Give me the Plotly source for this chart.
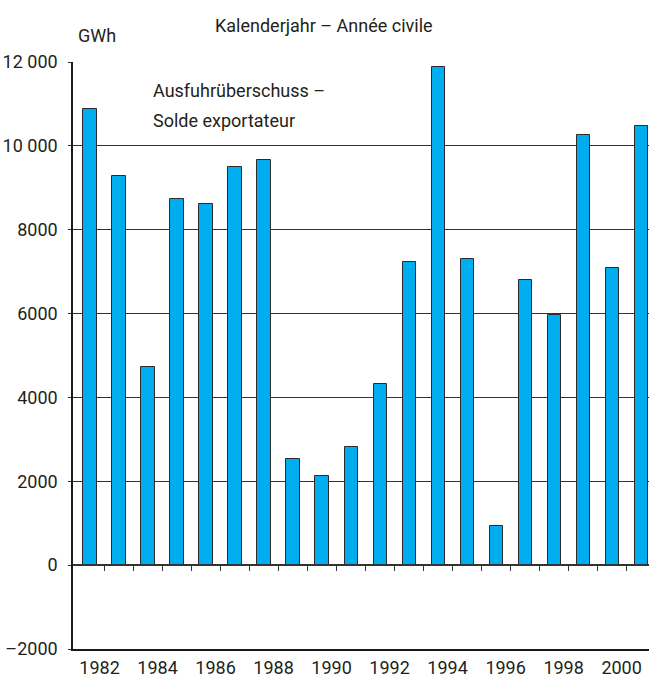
#!/usr/bin/env python3

import plotly.graph_objects as go

# Export surplus per calendar year (GWh)
years = list(range(1981, 2001))
surplus_gwh = [10870, 9290, 4720, 8740, 8620, 9500, 9670, 2530, 2120, 2820,
               4310, 7220, 11890, 7290, 940, 6790, 5970, 10260, 7090, 10470]

label_years = list(range(1982, 2001, 2))
y_ticks = [12000, 10000, 8000, 6000, 4000, 2000, 0, -2000]
y_ticktext = ["12 000", "10 000", "8000", "6000", "4000", "2000", "0", "\u20132000"]

FONT = "Roboto, Lato, sans-serif"
FS = 18
TEXT = "#231f20"
BAR = "#00aeef"
x_range = [years[0] - 0.586, years[0] - 0.586 + 19.86]
y_range = [-2000, 12000]

fig = go.Figure()

fig.add_trace(go.Bar(
    x=years,
    y=surplus_gwh,
    width=0.45,
    marker=dict(color=BAR, line=dict(color="#2b2b2b", width=1)),
    showlegend=False,
    hoverinfo="x+y",
))

# year labels sit just left of the boundary between two bars
label_pos = [y - 0.5 - 0.17 for y in label_years]
# tick marks hang from the zero line at every bar boundary
boundaries = [y + 0.5 for y in years[:-1]]

fig.update_layout(
    width=649,
    height=681,
    margin=dict(l=73, r=0, t=62, b=32, autoexpand=False),
    plot_bgcolor="white",
    paper_bgcolor="white",
    font=dict(family=FONT, size=FS, color=TEXT),
    bargap=0,
    xaxis=dict(
        range=x_range,
        automargin=False,
        tickmode="array",
        tickvals=label_pos,
        ticktext=[str(y) for y in label_years],
        ticks="",
        ticklabelstandoff=2,
        showgrid=False,
        zeroline=False,
        showline=True,
        linecolor="#1a1a1a",
        linewidth=1.5,
        tickfont=dict(size=FS, color=TEXT),
    ),
    xaxis2=dict(
        range=x_range,
        automargin=False,
        overlaying="x",
        anchor="free",
        position=(0 - y_range[0]) / (y_range[1] - y_range[0]),
        side="bottom",
        tickmode="array",
        tickvals=boundaries,
        ticks="outside",
        ticklen=5,
        tickwidth=1.2,
        tickcolor="#333333",
        showticklabels=False,
        showgrid=False,
        zeroline=False,
        showline=True,
        linecolor="#333333",
        linewidth=1.5,
    ),
    yaxis=dict(
        range=y_range,
        automargin=False,
        tickmode="array",
        tickvals=y_ticks,
        ticktext=y_ticktext,
        ticks="outside",
        ticklen=3,
        tickcolor="#333333",
        ticklabelstandoff=7,
        showgrid=True,
        gridcolor="#333333",
        gridwidth=1.2,
        zeroline=False,
        showline=True,
        linecolor="#1a1a1a",
        linewidth=1.5,
        tickfont=dict(size=FS, color=TEXT),
    ),
)

# invisible trace so xaxis2 gets drawn
fig.add_trace(go.Scatter(x=[years[0]], y=[None], xaxis="x2", showlegend=False,
                         hoverinfo="skip", mode="markers"))

plot_h = 587.0
plot_w = 576.0

def py(pix):
    # pixel from top of figure -> paper y
    return 1 + (62 - pix) / plot_h

def px(pix):
    return (pix - 73) / plot_w

fig.add_annotation(text="Kalenderjahr \u2013 Ann\u00e9e civile", xref="paper", yref="paper",
                   x=px(324), y=py(25), xanchor="center", yanchor="middle",
                   showarrow=False, font=dict(size=FS, color=TEXT))
fig.add_annotation(text="GWh", xref="paper", yref="paper",
                   x=px(76), y=py(36), xanchor="left", yanchor="middle",
                   showarrow=False, font=dict(size=FS, color=TEXT))
fig.add_annotation(text="Ausfuhr\u00fcberschuss \u2013", xref="paper", yref="paper",
                   x=px(151), y=py(90), xanchor="left", yanchor="middle",
                   showarrow=False, font=dict(size=FS, color=TEXT))
fig.add_annotation(text="Solde exportateur", xref="paper", yref="paper",
                   x=px(151), y=py(121), xanchor="left", yanchor="middle",
                   showarrow=False, font=dict(size=FS, color=TEXT))

# drop the default body margin so the figure fills the window exactly
fig.write_html("out.html",
               config={"displayModeBar": False},
               post_script="document.body.style.margin='0';document.body.style.overflow='hidden';")
